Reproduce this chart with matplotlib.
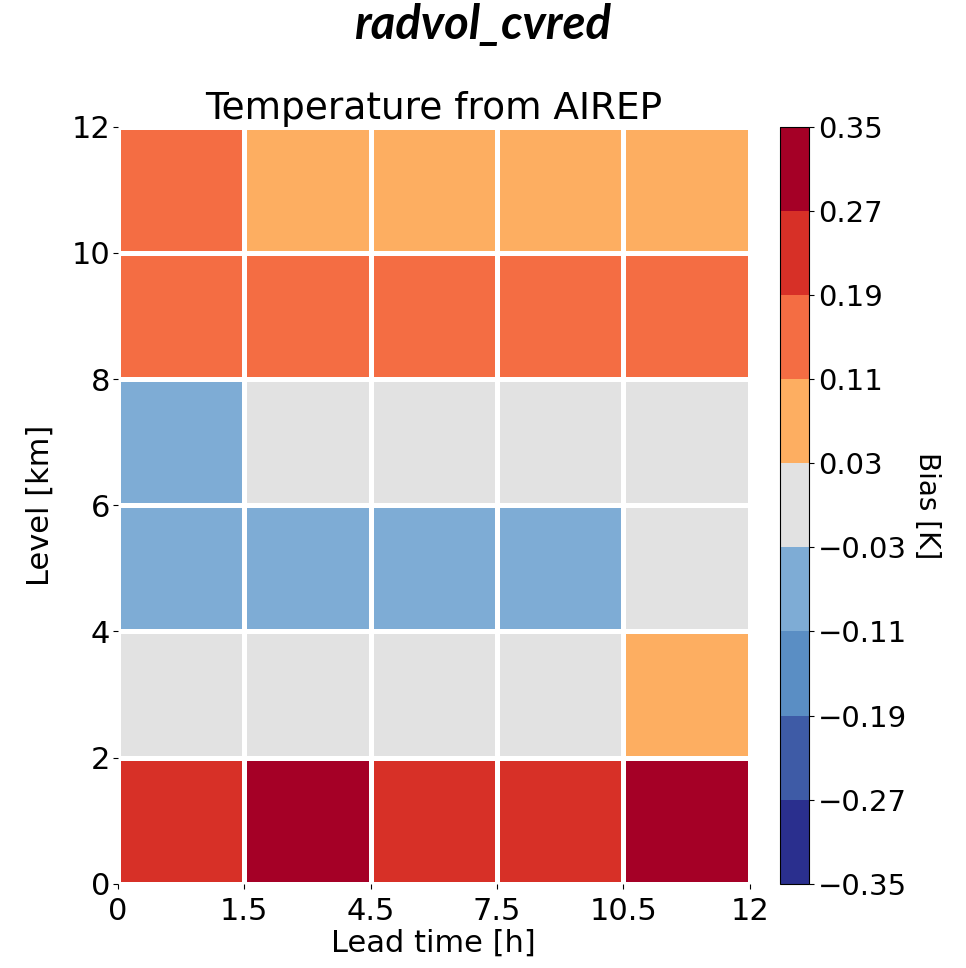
import numpy as np
import matplotlib
matplotlib.use("Agg")
import matplotlib.pyplot as plt
from matplotlib.colors import ListedColormap, BoundaryNorm

# lead-time bin edges (drawn as equal-width columns) and level edges
lead_labels = ["0", "1.5", "4.5", "7.5", "10.5", "12"]
level_edges = [0, 2, 4, 6, 8, 10, 12]

# bias per level band (bottom to top), per lead-time bin
bias_0_2 = [0.23, 0.31, 0.23, 0.23, 0.31]
bias_2_4 = [0.00, 0.00, 0.00, 0.00, 0.07]
bias_4_6 = [-0.07, -0.07, -0.07, -0.07, 0.00]
bias_6_8 = [-0.07, 0.00, 0.00, 0.00, 0.00]
bias_8_10 = [0.15, 0.15, 0.15, 0.15, 0.15]
bias_10_12 = [0.15, 0.07, 0.07, 0.07, 0.07]

levels = [-0.35, -0.27, -0.19, -0.11, -0.03, 0.03, 0.11, 0.19, 0.27, 0.35]
colors = ["#2a2f8e", "#3e5ba6", "#5a8ec4", "#7eacd5", "#e2e2e2",
          "#fdae61", "#f46d43", "#d73027", "#a50026"]

bias = np.array([bias_0_2, bias_2_4, bias_4_6, bias_6_8, bias_8_10, bias_10_12])
cmap = ListedColormap(colors)
norm = BoundaryNorm(levels, cmap.N)
x_edges = np.arange(len(lead_labels))

fig = plt.figure(figsize=(9.66, 9.68), dpi=100)
ax = fig.add_axes([0.122, 0.087, 0.654, 0.782])
cax = fig.add_axes([0.807, 0.087, 0.030, 0.782])

mesh = ax.pcolormesh(x_edges, level_edges, bias, cmap=cmap, norm=norm,
                     edgecolor="white", linewidth=2.5)
for s in ax.spines.values():
    s.set_visible(False)
ax.set_xticks(x_edges)
ax.set_xticklabels(lead_labels)
ax.set_yticks(level_edges)
ax.tick_params(labelsize=22, pad=2)
ax.tick_params(axis="x", pad=6)
ax.set_xlabel("Lead time [h]", fontsize=22, labelpad=2)
ax.set_ylabel("Level [km]", fontsize=22, labelpad=12)
ax.set_title("Temperature from AIREP", fontsize=27, pad=2)

cb = fig.colorbar(mesh, cax=cax, ticks=levels)
cb.ax.tick_params(labelsize=21)
cb.set_label("Bias [K]", fontsize=20, rotation=270, labelpad=24)

fig.text(0.5, 0.997, "radvol_cvred", ha="center", va="top", fontsize=34,
         fontweight="bold", fontstyle="italic", family="Lato")

fig.savefig("out.png", dpi=100)
